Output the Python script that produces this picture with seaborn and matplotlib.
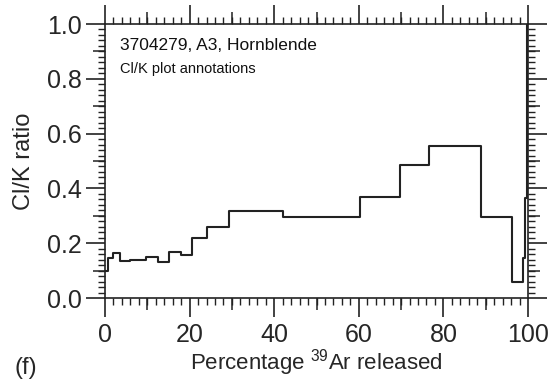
import matplotlib
matplotlib.use("Agg")
import matplotlib.pyplot as plt
import seaborn as sns
import numpy as np
import pandas as pd
from matplotlib.ticker import MultipleLocator, FixedLocator, NullFormatter

# ---- data ----
step_start = [0, 0.6, 1.8, 3.6, 6.0, 9.8, 12.6, 15.2, 17.9, 20.5, 24.2, 29.4,
              42.0, 60.4, 69.7, 76.7, 88.9, 96.1, 98.9, 99.4, 99.8]
step_end_last = 100
clk_ratio = [0.100, 0.145, 0.163, 0.136, 0.140, 0.148, 0.132, 0.168, 0.158, 0.220,
             0.260, 0.316, 0.295, 0.367, 0.484, 0.555, 0.295, 0.057, 0.146, 0.366, 1.2]
x_ticks = [0, 20, 40, 60, 80, 100]
y_ticks = [0.0, 0.2, 0.4, 0.6, 0.8, 1.0]
y_ticklabels = ["0.0", "0.2", "0.4", "0.6", "0.8", "1.0"]
title1 = "3704279, A3, Hornblende"
title2 = "Cl/K plot annotations"

sns.set_style("ticks")
plt.rcParams["font.family"] = ["Liberation Sans", "DejaVu Sans"]
plt.rcParams["mathtext.fontset"] = "custom"
plt.rcParams["mathtext.rm"] = "Liberation Sans"

df = pd.DataFrame({"x": step_start + [step_end_last],
                   "y": clk_ratio + [clk_ratio[-1]]})

fig = plt.figure(figsize=(5.59, 3.80), dpi=100)
ax = fig.add_axes([105/559, 82/380, 423/559, 274/380])

sns.lineplot(data=df, x="x", y="y", drawstyle="steps-post", estimator=None,
             color="#222222", linewidth=1.5, ax=ax)

ax.set_xlim(0, 100)
ax.set_ylim(0, 1.0)
ax.set_xticks(x_ticks)
ax.set_xticklabels([str(t) for t in x_ticks])
ax.set_yticks(y_ticks)
ax.set_yticklabels(y_ticklabels)
ax.xaxis.set_minor_locator(MultipleLocator(2))
ax.yaxis.set_minor_locator(MultipleLocator(0.02))

for s in ax.spines.values():
    s.set_visible(True)
    s.set_linewidth(1.2)
    s.set_color("#222222")

ax.tick_params(axis="both", which="major", direction="out", length=14, width=1.2,
               color="#222222", labelsize=18, top=True, right=True,
               labeltop=False, labelright=False)
ax.tick_params(axis="x", which="major", pad=4)
ax.tick_params(axis="y", which="major", pad=3)
ax.tick_params(axis="both", which="minor", direction="out", length=5, width=1.0,
               color="#222222", top=True, right=True)

# medium ticks at every 10 / 0.1
med_x = [10, 30, 50, 70, 90]
med_y = [0.1, 0.3, 0.5, 0.7, 0.9]
for loc in ["bottom", "top"]:
    sx = ax.secondary_xaxis(loc)
    sx.set_xticks(med_x)
    sx.xaxis.set_major_formatter(NullFormatter())
    sx.tick_params(direction="out", length=8.5, width=1.1, color="#222222")
    sx.spines[loc].set_visible(False)
for loc in ["left", "right"]:
    sy = ax.secondary_yaxis(loc)
    sy.set_yticks(med_y)
    sy.yaxis.set_major_formatter(NullFormatter())
    sy.tick_params(direction="out", length=8.5, width=1.1, color="#222222")
    sy.spines[loc].set_visible(False)

ax.set_xlabel(r"Percentage $^{39}$Ar released", fontsize=16)
ax.xaxis.set_label_coords(0.5, -0.178)
ax.set_ylabel("Cl/K ratio", fontsize=17)
ax.yaxis.set_label_coords(-0.165, 0.5)

ax.text(0.035, 0.905, title1, transform=ax.transAxes, fontsize=12.5,
        va="baseline", ha="left", color="#111111")
ax.text(0.035, 0.821, title2, transform=ax.transAxes, fontsize=10.5,
        va="baseline", ha="left", color="#111111")

fig.text(14/559, 6/380, "(f)", fontsize=17, va="baseline", ha="left")

fig.savefig("out.png", dpi=100)
